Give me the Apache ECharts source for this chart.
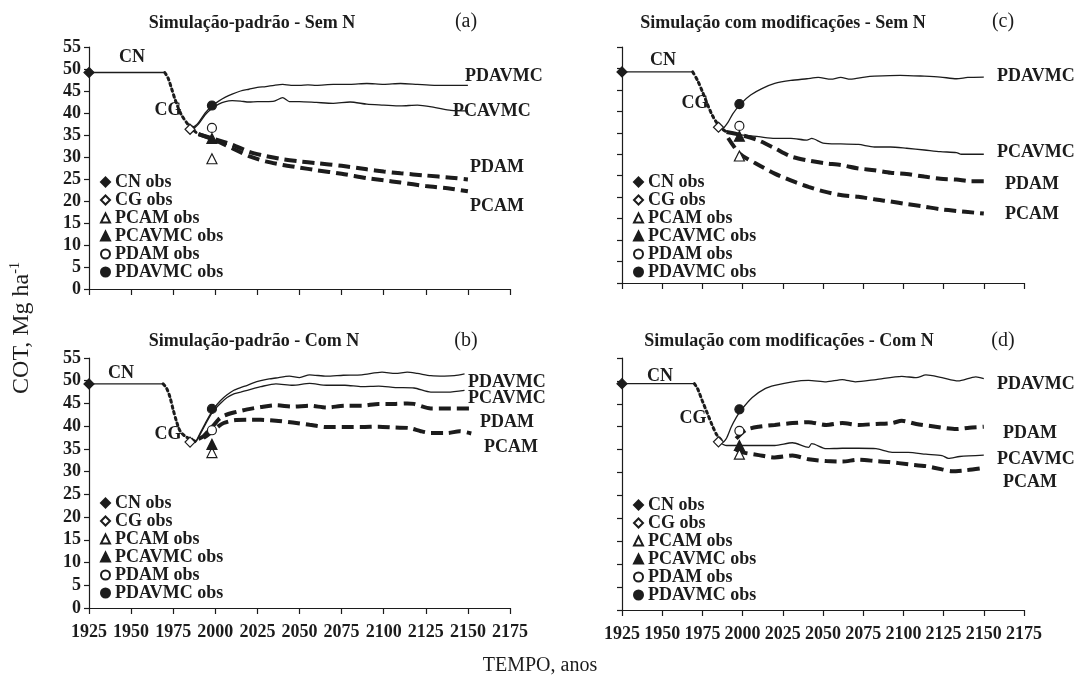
<!DOCTYPE html>
<html><head><meta charset="utf-8">
<script src="https://cdn.jsdelivr.net/npm/echarts@6/dist/echarts.min.js"></script>
<style>html,body{margin:0;padding:0;background:#fff}#c{width:1077px;height:682px}</style>
</head><body><div id="c"></div>
<script>
// ---------- DATA ----------
const xMin = 1925, xMax = 2175, xStep = 25;
const yMin = 0, yMax = 55, yStep = 5;
const obsNames = ['CN obs','CG obs','PCAM obs','PCAVMC obs','PDAM obs','PDAVMC obs'];
const simNames = ['PDAVMC','PCAVMC','PDAM','PCAM'];

// (a) Simulação-padrão - Sem N
const a_CN = [[1925,49.2],[1970,49.2]];
const a_CG = [[1970,49.2],[1972,47.9],[1974,45.6],[1976,43.2],[1978,41.2],[1980,39.5],[1983,37.8],[1986,36.4],[1990,35.2]];
const a_PDAVMC = [[1984,37.6],[1987,36.9],[1990,37.8],[1994,40.0],[1998,41.6],[2002,42.7],[2006,43.6],[2010,44.3],[2015,45.0],[2020,45.4],[2025,45.8],[2030,46.0],[2035,46.3],[2040,46.5],[2045,46.3],[2050,46.3],[2055,46.4],[2060,46.3],[2070,46.5],[2080,46.5],[2090,46.7],[2100,46.5],[2110,46.7],[2120,46.5],[2130,46.3],[2140,46.3],[2150,46.3]];
const a_PCAVMC = [[1984,37.3],[1987,36.6],[1990,37.5],[1994,39.6],[1998,41.0],[2002,42.0],[2006,42.6],[2010,42.8],[2015,42.7],[2020,42.5],[2025,42.6],[2030,42.6],[2035,42.7],[2040,43.5],[2044,42.6],[2050,42.6],[2060,42.4],[2070,42.2],[2080,42.5],[2090,42.0],[2100,41.8],[2110,41.6],[2120,41.8],[2130,41.3],[2140,40.6],[2150,40.5]];
const a_PDAM = [[1990,35.2],[2000,34.0],[2010,32.8],[2020,31.2],[2030,30.2],[2040,29.5],[2050,29.0],[2060,28.6],[2075,28.0],[2090,27.2],[2100,26.7],[2110,26.3],[2125,25.8],[2140,25.3],[2150,24.9]];
const a_PCAM = [[1990,35.2],[2000,33.8],[2010,32.0],[2020,30.2],[2030,29.0],[2040,28.2],[2050,27.6],[2060,27.0],[2075,26.2],[2090,25.2],[2100,24.7],[2110,24.2],[2125,23.4],[2140,22.8],[2150,22.2]];
const a_obs = [[1925,49.2],[1985,36.3],[1998,29.6],[1998,34.2],[1998,36.6],[1998,41.7]];

// (b) Simulação-padrão - Com N
const b_CN = [[1925,49.3],[1969,49.3]];
const b_CG = [[1969,49.3],[1971,48.4],[1973,46.5],[1975,43.6],[1977,41.0],[1979,39.0],[1982,37.8],[1985,37.2],[1988,36.7]];
const b_PDAVMC = [[1986,37.4],[1988,36.6],[1991,38.5],[1995,41.3],[1999,43.8],[2003,45.6],[2007,46.9],[2011,47.9],[2015,48.5],[2019,49.0],[2023,49.6],[2027,50.0],[2032,50.4],[2036,50.6],[2044,51.0],[2050,50.7],[2056,51.3],[2066,51.0],[2076,51.2],[2087,51.3],[2099,51.9],[2107,51.6],[2114,51.9],[2120,51.6],[2128,51.1],[2136,51.0],[2142,51.1],[2148,51.5]];
const b_PCAVMC = [[1986,37.2],[1988,36.4],[1991,38.2],[1995,41.0],[1999,43.4],[2003,45.0],[2007,46.3],[2011,47.1],[2015,47.5],[2019,47.9],[2023,48.3],[2027,48.7],[2036,49.3],[2046,49.0],[2056,49.4],[2066,49.0],[2077,49.0],[2087,48.7],[2097,48.8],[2107,48.5],[2118,48.4],[2128,47.5],[2138,47.5],[2148,47.9]];
const b_PDAM = [[1990,37.2],[1993,37.8],[1996,39.0],[1999,40.2],[2002,41.5],[2005,42.3],[2011,43.0],[2019,43.7],[2027,44.2],[2036,44.6],[2046,44.3],[2056,44.5],[2066,44.1],[2077,44.5],[2087,44.5],[2097,44.9],[2107,44.9],[2114,45.0],[2118,44.9],[2128,43.9],[2138,43.9],[2152,43.9]];
const b_PCAM = [[1993,37.4],[1996,38.2],[1999,39.0],[2002,40.0],[2005,40.7],[2011,41.3],[2019,41.4],[2027,41.4],[2036,41.2],[2046,40.8],[2056,40.3],[2066,39.8],[2077,39.8],[2087,39.8],[2097,39.9],[2107,39.7],[2115,39.6],[2122,38.9],[2128,38.5],[2138,38.5],[2145,38.9],[2152,38.4]];
const b_obs = [[1925,49.3],[1985,36.5],[1998,34.2],[1998,36.0],[1998,39.1],[1998,43.8]];

// (c) Simulação com modificações - Sem N
const c_CN = [[1925,49.2],[1969,49.2]];
const c_CG = [[1969,49.2],[1972,47.2],[1975,44.6],[1978,41.8],[1981,39.2],[1984,37.3],[1987,36.0],[1990,35.2]];
const c_PDAVMC = [[1988,36.0],[1991,37.5],[1994,39.5],[1999,41.8],[2005,43.8],[2012,45.3],[2020,46.5],[2030,47.2],[2040,47.6],[2047,47.9],[2055,47.5],[2061,47.9],[2067,47.5],[2076,48.0],[2082,48.2],[2098,48.4],[2113,48.2],[2123,48.0],[2133,47.6],[2140,47.9],[2150,48.0]];
const c_PCAVMC = [[1986,36.2],[1991,35.2],[1999,34.5],[2010,34.1],[2020,33.7],[2030,33.7],[2040,33.3],[2043,33.7],[2050,32.6],[2061,32.4],[2072,32.3],[2082,31.7],[2092,31.7],[2102,31.4],[2113,31.0],[2123,30.6],[2133,30.4],[2136,30.0],[2150,30.0]];
const c_PDAM = [[1990,35.2],[1999,34.5],[2010,33.2],[2020,31.4],[2030,29.5],[2040,28.6],[2051,27.9],[2061,27.5],[2072,26.7],[2082,26.3],[2092,25.7],[2102,25.4],[2113,24.8],[2123,24.3],[2133,24.1],[2142,23.7],[2150,23.7]];
const c_PCAM = [[1991,33.8],[1998,30.2],[2008,27.9],[2020,25.5],[2032,23.6],[2041,22.4],[2051,21.3],[2061,20.5],[2072,20.1],[2082,19.5],[2092,19.0],[2102,18.4],[2113,17.8],[2123,17.2],[2133,16.8],[2144,16.4],[2150,16.2]];
const c_obs = [[1925,49.2],[1985,36.3],[1998,29.6],[1998,34.2],[1998,36.6],[1998,41.7]];

// (d) Simulação com modificações - Com N
const d_CN = [[1925,49.4],[1970,49.4]];
const d_CG = [[1970,49.4],[1972,48.3],[1975,45.6],[1978,43.0],[1981,40.4],[1984,38.2],[1988,36.6]];
const d_PDAVMC = [[1988,36.6],[1990,37.5],[1993,40.0],[1996,42.0],[1999,43.6],[2006,46.4],[2014,48.3],[2020,49.0],[2031,49.8],[2041,50.1],[2052,49.8],[2062,50.3],[2070,49.8],[2083,50.3],[2099,51.0],[2108,50.7],[2114,51.3],[2124,50.7],[2134,50.0],[2145,50.9],[2150,50.5]];
const d_PCAVMC = [[1986,36.5],[1990,35.9],[2000,35.9],[2020,35.9],[2031,36.5],[2041,35.5],[2043,36.3],[2052,35.2],[2062,35.3],[2072,35.3],[2083,35.2],[2093,34.4],[2103,34.4],[2114,34.0],[2124,33.7],[2128,33.1],[2135,33.5],[2150,33.8]];
const d_PDAM = [[1996,37.4],[2002,39.3],[2010,40.0],[2020,40.4],[2031,40.8],[2041,41.0],[2052,40.4],[2062,40.8],[2072,40.4],[2083,40.6],[2093,40.8],[2099,41.3],[2108,40.6],[2120,40.0],[2133,39.5],[2141,39.8],[2150,40.0]];
const d_PCAM = [[1996,35.0],[2000,34.4],[2010,33.8],[2020,33.3],[2031,33.7],[2041,32.9],[2052,32.5],[2062,32.4],[2072,32.8],[2083,32.5],[2091,32.3],[2103,31.8],[2114,31.4],[2124,30.7],[2130,30.3],[2139,30.5],[2150,31.0]];
const d_obs = [[1925,49.4],[1985,36.7],[1998,34.0],[1998,35.9],[1998,39.1],[1998,43.8]];

const titles = ['Simulação-padrão - Sem N','Simulação-padrão - Com N','Simulação com modificações - Sem N','Simulação com modificações - Com N'];
const tags = ['(a)','(b)','(c)','(d)'];

// ---------- STYLE / LAYOUT ----------
const FONT = '"Liberation Serif","Times New Roman",serif';
const INK = '#1c1c1c';
const grids = [
  {left:89, top:47, width:421, height:242},
  {left:89, top:358, width:421, height:250},
  {left:622, top:47, width:402, height:236},
  {left:622, top:358, width:402, height:252}
];
const panels = [
  {CN:a_CN, CG:a_CG, sim:[a_PDAVMC,a_PCAVMC,a_PDAM,a_PCAM], obs:a_obs, xlab:false, ylab:true},
  {CN:b_CN, CG:b_CG, sim:[b_PDAVMC,b_PCAVMC,b_PDAM,b_PCAM], obs:b_obs, xlab:true, ylab:true},
  {CN:c_CN, CG:c_CG, sim:[c_PDAVMC,c_PCAVMC,c_PDAM,c_PCAM], obs:c_obs, xlab:false, ylab:false},
  {CN:d_CN, CG:d_CG, sim:[d_PDAVMC,d_PCAVMC,d_PDAM,d_PCAM], obs:d_obs, xlab:true, ylab:false}
];
const obsSymbols = [
  {symbol:'diamond', fill:INK, size:10},
  {symbol:'diamond', fill:'#fff', size:10},
  {symbol:'triangle', fill:'#fff', size:10},
  {symbol:'triangle', fill:INK, size:10},
  {symbol:'circle', fill:'#fff', size:9},
  {symbol:'circle', fill:INK, size:9}
];
const simStyles = [
  {width:1.3, type:'solid'},
  {width:1.3, type:'solid'},
  {width:4, type:[12,6]},
  {width:4, type:[12,6]}
];

const xAxes = [], yAxes = [], series = [], legends = [];
const axisText = {fontFamily:FONT, fontWeight:'bold', fontSize:18, color:INK};
panels.forEach((p, i) => {
  xAxes.push({gridIndex:i, type:'value', min:xMin, max:xMax, interval:xStep,
    axisLine:{show:true, onZero:false, lineStyle:{color:INK, width:1.2}},
    axisTick:{show:true, length:6, lineStyle:{color:INK, width:1.2}},
    axisLabel:Object.assign({show:p.xlab, margin:15, hideOverlap:false, showMinLabel:true, showMaxLabel:true,
      formatter:v => String(v)}, axisText),
    splitLine:{show:false}});
  yAxes.push({gridIndex:i, type:'value', min:yMin, max:yMax, interval:yStep,
    axisLine:{show:true, lineStyle:{color:INK, width:1.2}},
    axisTick:{show:true, length:5, lineStyle:{color:INK, width:1.2}},
    axisLabel:Object.assign({show:p.ylab, margin:8}, axisText),
    splitLine:{show:false}});
  series.push({type:'line', name:'CN', xAxisIndex:i, yAxisIndex:i, data:p.CN, showSymbol:false, symbol:'none',
    lineStyle:{color:INK, width:1.3}, silent:true, z:2});
  series.push({type:'line', name:'CG', xAxisIndex:i, yAxisIndex:i, data:p.CG, showSymbol:false, symbol:'none', smooth:0.3,
    lineStyle:{color:INK, width:3, type:[2.5,3.5], cap:'round'}, silent:true, z:2});
  p.sim.forEach((d, k) => {
    series.push({type:'line', name:simNames[k], xAxisIndex:i, yAxisIndex:i, data:d, showSymbol:false, symbol:'none', smooth:0.25,
      lineStyle:{color:INK, width:simStyles[k].width, type:simStyles[k].type}, silent:true, z:2});
  });
  p.obs.forEach((pt, k) => {
    const s = obsSymbols[k];
    series.push({type:'scatter', name:obsNames[k], xAxisIndex:i, yAxisIndex:i, data:[pt], symbol:s.symbol, symbolSize:s.size,
      itemStyle:{color:s.fill, borderColor:INK, borderWidth:1.2, opacity:1}, z:5});
  });
  legends.push({orient:'vertical', left:grids[i].left + 11, top:(i%2===0 ? 173 : 494) + (i===3 ? 2 : 0),
    data:obsNames, itemWidth:9, itemHeight:9, itemGap:0, selectedMode:false, padding:0,
    itemStyle:{opacity:1},
    textStyle:{fontFamily:FONT, fontWeight:'bold', fontSize:18, color:INK, lineHeight:17.5}});
});

// annotation texts (positions in px)
function txt(x, y, text, size, bold, align) {
  return {type:'text', x:x, y:y, silent:true,
    style:{text:text, fill:INK, font:(bold?'bold ':'') + size + 'px ' + FONT, textAlign:align||'left', textVerticalAlign:'middle'}};
}
const gr = [];
const titlePos = [[252,23],[254,341],[783,23],[789,341]];
const tagPos = [[466,22],[466,341],[1003,22],[1003,341]];
titles.forEach((t,i)=>{ gr.push(txt(titlePos[i][0], titlePos[i][1], t, 18, true, 'center')); gr.push(txt(tagPos[i][0], tagPos[i][1], tags[i], 20, false, 'center')); });
const cnPos = [[132,57],[121,373],[663,60],[660,376]];
const cgPos = [[168,110],[168,434],[695,103],[693,418]];
cnPos.forEach(p=>gr.push(txt(p[0],p[1],'CN',18,true,'center')));
cgPos.forEach(p=>gr.push(txt(p[0],p[1],'CG',18,true,'center')));
const lblPos = [
  [[465,76],[453,111],[470,167],[470,206]],
  [[468,382],[468,398],[480,422],[484,447]],
  [[997,76],[997,152],[1005,184],[1005,214]],
  [[997,384],[997,459],[1003,433],[1003,482]]
];
lblPos.forEach(ps=>ps.forEach((p,k)=>gr.push(txt(p[0],p[1],simNames[k],18,true,'left'))));
gr.push(txt(540, 666, 'TEMPO, anos', 20, false, 'center'));
gr.push({type:'text', x:22, y:328, rotation:Math.PI/2, silent:true,
  style:{text:'{a|COT, Mg ha}{s|-1}', textAlign:'center', textVerticalAlign:'middle',
    rich:{a:{fontFamily:FONT, fontSize:24, fill:INK, color:INK}, s:{fontFamily:FONT, fontSize:14, fill:INK, color:INK, verticalAlign:'top', padding:[0,0,13,0]}}}});

const chart = echarts.init(document.getElementById('c'), null, {renderer:'canvas'});
chart.setOption({
  animation:false, backgroundColor:'#fff',
  grid:grids, xAxis:xAxes, yAxis:yAxes, series:series, legend:legends, graphic:gr
});
</script></body></html>
